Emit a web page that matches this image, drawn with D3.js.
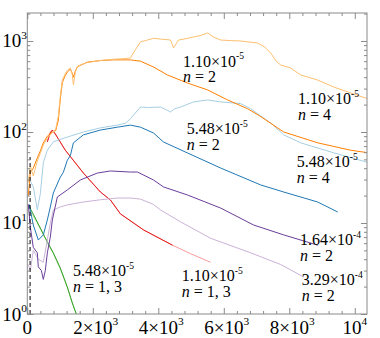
<!DOCTYPE html>
<html lang="en">
<head>
<meta charset="UTF-8">
<title>Log time series</title>
<script src="https://d3js.org/d3.v7.min.js"></script>
<style>
  body { margin: 0; background: #fff; }
  svg { display: block; }
  .lbl { font-family: 'Liberation Serif', 'Times New Roman', serif; fill: #000; }
  .axis path { display: none; }
  .axis line { stroke: #8a8a8a; }
  .series { fill: none; stroke-width: 1; }
</style>
</head>
<body>
<div id="chart"></div>
<script>
// series values [x, y]
const lightOrangeN4 = [[31,28],[92,42],[183,33],[306,48],[398,58],[489,72],[612,86],[765,98],[870,108],[948,150],[1009,250],[1070,370],[1162,440],[1223,475],[1315,505],[1376,420],[1407,330],[1468,455],[1529,525],[1621,545],[1835,580],[2232,610],[2630,630],[2950,640],[3150,651],[3300,800],[3456,975],[3650,1020],[3853,1070],[4067,1050],[4373,1025],[4465,838],[4618,1025],[4850,1060],[5076,1107],[5300,1150],[5505,1225],[5700,1100],[5902,1025],[6200,1010],[6514,1000],[7034,950],[7250,860],[7431,738],[7600,600],[7737,545],[8043,505],[8349,423],[8869,372],[9358,312],[9878,268],[10428,230]];
const orangeN2 = [[31,20],[92,36],[183,40],[306,52],[398,62],[489,76],[612,90],[765,100],[870,104],[948,135],[1009,230],[1070,350],[1162,420],[1223,455],[1315,490],[1376,440],[1407,400],[1468,470],[1529,520],[1621,540],[1835,585],[2232,610],[2630,620],[3150,620],[3456,600],[3853,518],[4281,423],[4893,345],[5505,290],[6116,225],[6728,180],[7100,150],[7829,100],[8869,76],[9878,63],[10428,59]];
const lightBlueN4 = [[31,32],[183,25],[306,14],[398,21],[489,46],[612,63],[795,78],[1223,88],[1713,100],[2232,111],[2752,119],[3000,125],[3150,140],[3456,188],[3700,186],[4067,188],[4250,175],[4373,166],[4500,180],[4679,188],[5076,214],[5505,225],[5902,214],[6514,205],[6820,180],[7125,150],[7431,126],[7829,93],[8349,76],[9358,59],[10428,46]];
const blueN2 = [[61,16],[183,9.5],[336,6.5],[489,7.4],[612,10.8],[703,15],[795,21.4],[1009,32],[1100,36],[1223,49],[1315,55],[1407,76],[1713,93],[2232,105],[2752,113],[3150,119],[3456,113],[3853,97.5],[4159,77.6],[4893,58.8],[5902,40.2],[7125,26.2],[7829,21.9],[8869,17],[9480,13.2]];
const purpleA = [[31,16],[92,9],[183,5.4],[306,4.7],[336,3.3],[430,3.0],[489,2.4],[550,3.0],[612,4.7],[703,7.0],[765,10.8],[917,19.3],[1223,23.1],[1621,29.7],[2141,35.4],[2538,37.3],[3150,36.3],[3364,36.3],[3853,29.7],[4159,24.9],[4893,20.3],[5902,14.6],[6911,9.5],[7829,7.4],[8869,5.7]];
const lightPurpleB = [[31,3.5],[92,3.0],[183,5.0],[336,4.0],[489,3.7],[612,6.5],[703,10],[795,13.9],[1009,15.0],[1223,15.8],[1713,17.0],[2232,18.0],[2752,18.8],[3150,18.8],[3456,18.3],[3853,16.0],[4067,13.9],[4679,10.3],[5596,6.8],[6820,4.7],[7737,3.5],[8440,2.55]];
const redN1 = [[612,78],[700,98],[765,105],[856,95],[1162,63],[1713,35.4],[2232,21.9],[2538,17.9],[2844,12.6],[3547,8.4],[4434,5.7]];
const pinkN3 = [[612,78],[700,98],[765,105],[856,95],[1162,63],[1713,35.4],[2232,21.9],[2538,17.9],[2844,12.6],[3547,8.4],[4434,5.7],[4985,4.6],[5596,3.7]];
const greenN1 = [[31,15.8],[183,12.5],[398,8.8],[612,6.2],[795,4.7],[1009,3.2],[1223,1.98],[1376,1.32],[1498,1.0],[1600,0.8]];
const lightGreenN3 = [[31,14],[183,12],[398,8.6],[612,6.1],[795,4.6],[1009,3.1],[1223,1.95],[1376,1.3],[1498,0.99],[1600,0.8]];
const dashedMark = [[85,1],[85,53]];

// tick labels
const xTickValues = [0, 2000, 4000, 6000, 8000, 10000];
const xTickLabels = [["0",""],["2×10","3"],["4×10","3"],["6×10","3"],["8×10","3"],["10","4"]];
const yTickValues = [1, 10, 100, 1000];
const yTickLabels = [["10","0"],["10","1"],["10","2"],["10","3"]];

// annotations
const annoText = [["1.10×10","-5","2"],["1.10×10","-5","4"],["5.48×10","-5","2"],["5.48×10","-5","4"],
                  ["5.48×10","-5","1, 3"],["1.10×10","-5","1, 3"],["1.64×10","-4","2"],["3.29×10","-4","2"]];
const annoAt = [[4754,522],[8266,203],[4867,95.1],[8226,40.9],[1395,2.62],[4715,2.30],[8327,5.73],[8379,2.08]];

const W = 380, H = 338;
const svg = d3.select("#chart").append("svg").attr("width", W).attr("height", H);

const x = d3.scaleLinear().domain([0, 10373]).range([27.3, 367]);
const y = d3.scaleLog().domain([1, 2030]).range([314, 13]);

svg.append("defs").append("clipPath").attr("id", "clip")
  .append("rect").attr("x", 27.3).attr("y", 13).attr("width", 367 - 27.3).attr("height", 314 - 13);

const line = d3.line().x(d => x(d[0])).y(d => y(d[1]));
const plot = svg.append("g").attr("clip-path", "url(#clip)");

const series = [
  [lightGreenN3, "#b2df8a"], [greenN1, "#33a02c"],
  [pinkN3, "#fb9a99"], [redN1, "#e31a1c"],
  [lightPurpleB, "#cab2d6"], [purpleA, "#6a3d9a"],
  [lightBlueN4, "#a6cee3"], [blueN2, "#1f78b4"],
  [orangeN2, "#ff7f00"], [lightOrangeN4, "#fdbf6f"]
];
series.forEach(([data, color]) => {
  plot.append("path").datum(data).attr("class", "series")
    .attr("stroke", color).attr("d", line);
});
plot.append("path").datum(dashedMark).attr("fill", "none")
  .attr("stroke", "#000").attr("stroke-width", 1).attr("stroke-dasharray", "4,3").attr("d", line);

// frame
svg.append("rect").attr("x", 27.3).attr("y", 13).attr("width", 367 - 27.3).attr("height", 314 - 13)
  .attr("fill", "none").attr("stroke", "#8a8a8a").attr("stroke-width", 1);

const xMinor = d3.range(0, 10400, 400).filter(v => v % 2000 !== 0);
const yMinor = [];
[1, 10, 100, 1000].forEach(k => [2,3,4,5,6,7,8,9].forEach(m => { if (m * k < 2030) yMinor.push(m * k); }));

function ticks(axisFn, vals, size, transform) {
  svg.append("g").attr("class", "axis").attr("transform", transform)
    .call(axisFn.tickValues(vals).tickSize(-size).tickFormat(""));
}
ticks(d3.axisBottom(x), xTickValues, 6, "translate(0,314)");
ticks(d3.axisBottom(x), xMinor, 3, "translate(0,314)");
ticks(d3.axisTop(x), xTickValues, 6, "translate(0,13)");
ticks(d3.axisTop(x), xMinor, 3, "translate(0,13)");
ticks(d3.axisLeft(y), yTickValues, 6, "translate(27.3,0)");
ticks(d3.axisLeft(y), yMinor, 3, "translate(27.3,0)");
ticks(d3.axisRight(y), yTickValues, 6, "translate(367,0)");
ticks(d3.axisRight(y), yMinor, 3, "translate(367,0)");

function supText(g, base, sup, size) {
  g.append("tspan").text(base);
  if (sup) g.append("tspan").attr("dy", -0.45 * size).attr("font-size", size * 0.6).text(sup);
}

// x tick labels
xTickValues.forEach((v, i) => {
  const t = svg.append("text").attr("class", "lbl").attr("font-size", 19)
    .attr("text-anchor", "middle").attr("x", x(v) + (xTickLabels[i][1] === "3" ? 3 : 0)).attr("y", 334);
  supText(t, xTickLabels[i][0], xTickLabels[i][1], 19);
});
// y tick labels
yTickValues.forEach((v, i) => {
  const t = svg.append("text").attr("class", "lbl").attr("font-size", 19)
    .attr("text-anchor", "end").attr("x", 27).attr("y", y(v) + 6.5);
  supText(t, yTickLabels[i][0], yTickLabels[i][1], 19);
});

// annotations
annoText.forEach((a, i) => {
  const px = x(annoAt[i][0]), py = y(annoAt[i][1]);
  const t1 = svg.append("text").attr("class", "lbl").attr("font-size", 16).attr("x", px).attr("y", py);
  supText(t1, a[0], a[1], 16);
  const t2 = svg.append("text").attr("class", "lbl").attr("font-size", 16).attr("x", px).attr("y", py + 15.6);
  t2.append("tspan").attr("font-style", "italic").text("n");
  t2.append("tspan").text(" = " + a[2]);
});
</script>
</body>
</html>
